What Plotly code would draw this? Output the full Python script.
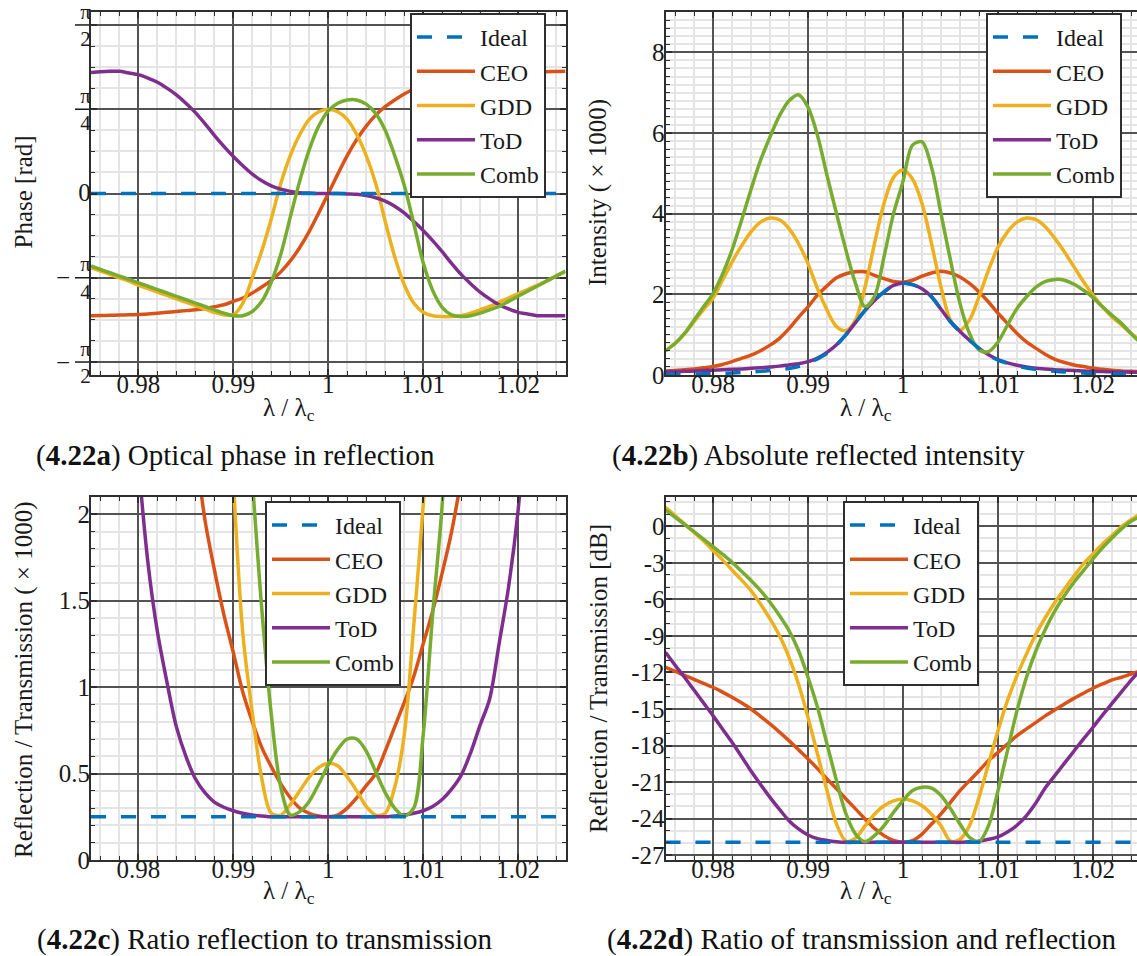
import numpy as np
import plotly.graph_objects as go

FONT = "Liberation Serif"
W, H = 1137, 956

# ---------------- data ----------------
LAMBDA = [0.975, 0.976, 0.977, 0.978, 0.979, 0.980, 0.981, 0.982, 0.983, 0.984,
          0.985, 0.986, 0.987, 0.988, 0.989, 0.990, 0.991, 0.992, 0.993, 0.994,
          0.995, 0.996, 0.997, 0.998, 0.999, 1.000, 1.001, 1.002, 1.003, 1.004,
          1.005, 1.006, 1.007, 1.008, 1.009, 1.010, 1.011, 1.012, 1.013, 1.014,
          1.015, 1.016, 1.017, 1.018, 1.019, 1.020, 1.021, 1.022, 1.023, 1.024,
          1.025]

# (a) optical phase, in units of pi/4
PHASE_IDEAL_QPI = [0.0, 0.0, 0.0, 0.0, 0.0, 0.0, 0.0, 0.0, 0.0, 0.0, 0.0, 0.0, 0.0,
                   0.0, 0.0, 0.0, 0.0, 0.0, 0.0, 0.0, 0.0, 0.0, 0.0, 0.0, 0.0, 0.0,
                   0.0, 0.0, 0.0, 0.0, 0.0, 0.0, 0.0, 0.0, 0.0, 0.0, 0.0, 0.0, 0.0,
                   0.0, 0.0, 0.0, 0.0, 0.0, 0.0, 0.0, 0.0, 0.0, 0.0, 0.0, 0.0]
PHASE_CEO_QPI = [-1.45, -1.448, -1.446, -1.443, -1.44, -1.436, -1.43, -1.42, -1.41, -1.40,
                 -1.39, -1.38, -1.365, -1.345, -1.32, -1.28, -1.24, -1.18, -1.11, -1.03,
                 -0.93, -0.80, -0.64, -0.45, -0.23, 0.0, 0.23, 0.45, 0.64, 0.80,
                 0.93, 1.03, 1.11, 1.18, 1.24, 1.28, 1.32, 1.345, 1.365, 1.38,
                 1.39, 1.40, 1.41, 1.42, 1.43, 1.436, 1.44, 1.443, 1.446, 1.448, 1.45]
PHASE_GDD_QPI = [-0.88, -0.92, -0.96, -1.00, -1.04, -1.09, -1.13, -1.17, -1.21, -1.25,
                 -1.29, -1.33, -1.37, -1.41, -1.44, -1.44, -1.30, -1.00, -0.68, -0.30,
                 0.12, 0.45, 0.70, 0.88, 0.97, 1.00, 0.97, 0.88, 0.70, 0.45,
                 0.12, -0.33, -0.75, -1.08, -1.30, -1.41, -1.45, -1.46, -1.46, -1.45,
                 -1.42, -1.38, -1.34, -1.29, -1.24, -1.19, -1.14, -1.09, -1.04, -0.98, -0.93]
PHASE_TOD_QPI = [1.435, 1.445, 1.45, 1.45, 1.43, 1.41, 1.37, 1.32, 1.25, 1.17,
                 1.07, 0.96, 0.83, 0.69, 0.56, 0.44, 0.33, 0.23, 0.15, 0.09,
                 0.05, 0.025, 0.01, 0.005, 0.0, 0.0, 0.0, -0.005, -0.01, -0.025,
                 -0.05, -0.09, -0.15, -0.23, -0.33, -0.44, -0.56, -0.69, -0.83, -0.96,
                 -1.07, -1.17, -1.25, -1.32, -1.37, -1.41, -1.43, -1.45, -1.45, -1.45, -1.45]
PHASE_COMB_QPI = [-0.86, -0.90, -0.94, -0.98, -1.02, -1.06, -1.10, -1.14, -1.18, -1.22,
                  -1.26, -1.30, -1.34, -1.38, -1.42, -1.45, -1.45, -1.40, -1.28, -1.05,
                  -0.72, -0.28, 0.15, 0.52, 0.80, 0.98, 1.07, 1.11, 1.11, 1.06,
                  0.95, 0.75, 0.45, 0.10, -0.35, -0.82, -1.15, -1.35, -1.44, -1.46,
                  -1.45, -1.42, -1.38, -1.34, -1.28, -1.22, -1.16, -1.10, -1.04, -0.98, -0.92]

# (b) reflected intensity (x1000)
INT_IDEAL = [0.01, 0.015, 0.02, 0.025, 0.03, 0.035, 0.04, 0.05, 0.06, 0.07,
             0.09, 0.11, 0.13, 0.16, 0.21, 0.29, 0.40, 0.54, 0.74, 1.0,
             1.3, 1.6, 1.85, 2.06, 2.22, 2.28, 2.24, 2.14, 1.94, 1.63,
             1.32, 1.08, 0.86, 0.66, 0.49, 0.37, 0.29, 0.22, 0.17, 0.14,
             0.11, 0.09, 0.075, 0.06, 0.05, 0.04, 0.035, 0.03, 0.02, 0.015, 0.01]
INT_CEO = [0.10, 0.11, 0.13, 0.15, 0.18, 0.21, 0.26, 0.33, 0.41, 0.49,
           0.60, 0.74, 0.91, 1.15, 1.43, 1.69, 1.98, 2.21, 2.41, 2.51,
           2.56, 2.56, 2.47, 2.39, 2.32, 2.30, 2.35, 2.45, 2.53, 2.57,
           2.53, 2.43, 2.27, 2.06, 1.81, 1.53, 1.28, 1.03, 0.82, 0.66,
           0.51, 0.39, 0.31, 0.25, 0.21, 0.165, 0.14, 0.12, 0.10, 0.09, 0.08]
INT_GDD = [0.6, 0.78, 1.02, 1.32, 1.62, 1.9, 2.35, 2.8, 3.2, 3.55,
           3.79, 3.89, 3.85, 3.63, 3.26, 2.76, 2.14, 1.61, 1.2, 1.1,
           1.36, 2.18, 3.26, 4.25, 4.9, 5.08, 4.86, 4.25, 3.26, 2.18,
           1.36, 1.11, 1.36, 1.94, 2.6, 3.17, 3.55, 3.79, 3.89, 3.85,
           3.67, 3.38, 3.05, 2.68, 2.31, 1.98, 1.69, 1.44, 1.24, 1.03, 0.85]
INT_TOD = [0.08, 0.085, 0.09, 0.10, 0.11, 0.12, 0.13, 0.14, 0.15, 0.165,
           0.18, 0.20, 0.22, 0.25, 0.28, 0.33, 0.42, 0.56, 0.75, 1.0,
           1.3, 1.6, 1.85, 2.06, 2.22, 2.28, 2.24, 2.14, 1.94, 1.63,
           1.32, 1.08, 0.86, 0.66, 0.50, 0.38, 0.30, 0.24, 0.20, 0.17,
           0.15, 0.13, 0.12, 0.11, 0.10, 0.09, 0.085, 0.08, 0.075, 0.07, 0.065]
INT_COMB = [0.6, 0.78, 1.03, 1.36, 1.69, 2.02, 2.5, 3.1, 3.83, 4.6,
            5.32, 5.9, 6.43, 6.8, 6.95, 6.64, 5.94, 4.95, 4.0, 3.09,
            2.27, 1.69, 1.95, 2.93, 4.0, 4.8, 5.7, 5.78, 5.15, 4.0,
            2.84, 1.77, 1.03, 0.62, 0.58, 0.82, 1.24, 1.65, 1.94, 2.18,
            2.32, 2.37, 2.35, 2.25, 2.1, 1.92, 1.69, 1.48, 1.28, 1.03, 0.8]

# (c) reflection / transmission (x1000); None = above the visible range
RT_IDEAL = [0.25, 0.25, 0.25, 0.25, 0.25, 0.25, 0.25, 0.25, 0.25, 0.25,
            0.25, 0.25, 0.25, 0.25, 0.25, 0.25, 0.25, 0.25, 0.25, 0.25,
            0.25, 0.25, 0.25, 0.25, 0.25, 0.25, 0.25, 0.25, 0.25, 0.25,
            0.25, 0.25, 0.25, 0.25, 0.25, 0.25, 0.25, 0.25, 0.25, 0.25,
            0.25, 0.25, 0.25, 0.25, 0.25, 0.25, 0.25, 0.25, 0.25, 0.25, 0.25]
RT_CEO = [None, None, None, None, None, None, None, None, None, None,
          None, 2.4, 1.97, 1.68, 1.42, 1.2, 0.97, 0.8, 0.65, 0.54,
          0.44, 0.36, 0.30, 0.27, 0.255, 0.25, 0.26, 0.30, 0.36, 0.43,
          0.5, 0.63, 0.77, 0.91, 1.06, 1.25, 1.44, 1.66, 1.9, 2.2,
          None, None, None, None, None, None, None, None, None, None, None]
RT_GDD = [None, None, None, None, None, None, None, None, None, None,
          None, None, None, None, None, 2.2, 1.31, 0.85, 0.47, 0.27,
          0.26, 0.32, 0.40, 0.48, 0.535, 0.56, 0.545, 0.48, 0.40, 0.31,
          0.26, 0.27, 0.42, 0.72, 1.35, 2.05, 2.9, None, None, None,
          None, None, None, None, None, None, None, None, None, None, None]
RT_TOD = [None, None, None, None, None, 2.3, 1.72, 1.32, 1.03, 0.77,
          0.6, 0.47, 0.39, 0.335, 0.305, 0.285, 0.27, 0.26, 0.255, 0.25,
          0.25, 0.25, 0.25, 0.25, 0.25, 0.25, 0.25, 0.25, 0.25, 0.25,
          0.25, 0.25, 0.255, 0.26, 0.27, 0.285, 0.31, 0.35, 0.41, 0.49,
          0.62, 0.78, 0.93, 1.25, 1.58, 2.02, 2.7, None, None, None, None]
RT_COMB = [None, None, None, None, None, None, None, None, None, None,
           None, None, None, None, None, None, None, 2.2, 1.45, 0.84,
           0.42, 0.26, 0.28, 0.34, 0.44, 0.55, 0.64, 0.70, 0.70, 0.63,
           0.51, 0.39, 0.30, 0.255, 0.30, 0.72, 1.42, 2.05, 3.0, None,
           None, None, None, None, None, None, None, None, None, None, None]

# (d) reflection / transmission in dB
DB_IDEAL = [-25.95, -25.95, -25.95, -25.95, -25.95, -25.95, -25.95, -25.95, -25.95, -25.95,
            -25.95, -25.95, -25.95, -25.95, -25.95, -25.95, -25.95, -25.95, -25.95, -25.95,
            -25.95, -25.95, -25.95, -25.95, -25.95, -25.95, -25.95, -25.95, -25.95, -25.95,
            -25.95, -25.95, -25.95, -25.95, -25.95, -25.95, -25.95, -25.95, -25.95, -25.95,
            -25.95, -25.95, -25.95, -25.95, -25.95, -25.95, -25.95, -25.95, -25.95, -25.95, -25.95]
DB_CEO = [-11.58, -11.9, -12.25, -12.57, -12.9, -13.22, -13.62, -14.04, -14.5, -15.0,
          -15.6, -16.23, -16.9, -17.6, -18.35, -19.1, -19.9, -20.75, -21.55, -22.39,
          -23.2, -24.03, -24.8, -25.4, -25.8, -25.95, -25.8, -25.27, -24.45, -23.62,
          -22.67, -21.7, -20.89, -20.07, -19.24, -18.56, -17.88, -17.19, -16.64, -16.1,
          -15.55, -15.06, -14.59, -14.13, -13.71, -13.3, -12.95, -12.62, -12.4, -12.13, -11.9]
DB_GDD = [1.56, 0.88, 0.19, -0.49, -1.2, -2.0, -2.76, -3.59, -4.41, -5.28,
          -6.38, -7.61, -8.98, -10.76, -12.95, -15.69, -18.7, -21.7, -24.45, -25.85,
          -25.6, -24.6, -23.65, -22.95, -22.55, -22.4, -22.55, -22.95, -23.65, -24.6,
          -25.85, -25.7, -24.58, -22.26, -19.52, -16.78, -14.3, -12.26, -10.48, -8.84,
          -7.47, -6.24, -5.15, -4.1, -3.09, -2.27, -1.45, -0.77, -0.03, 0.52, 1.0]
DB_TOD = [-10.35, -11.4, -12.4, -13.45, -14.5, -15.55, -16.65, -17.74, -18.9, -20.1,
          -21.2, -22.26, -23.25, -24.17, -24.85, -25.35, -25.65, -25.8, -25.9, -25.95,
          -25.95, -25.95, -25.95, -25.95, -25.95, -25.95, -25.95, -25.95, -25.95, -25.95,
          -25.95, -25.95, -25.9, -25.85, -25.7, -25.5, -25.1, -24.55, -23.75, -22.7,
          -21.45, -20.45, -19.45, -18.45, -17.45, -16.5, -15.5, -14.55, -13.6, -12.65, -11.8]
DB_COMB = [1.34, 0.75, 0.15, -0.45, -1.05, -1.67, -2.3, -2.96, -3.7, -4.46,
           -5.28, -6.24, -7.34, -8.57, -10.2, -12.4, -14.86, -17.88, -20.89, -23.62,
           -25.27, -25.9, -25.4, -24.58, -23.49, -22.53, -21.7, -21.43, -21.5, -22.1,
           -23.2, -24.45, -25.54, -25.9, -24.58, -21.7, -18.42, -15.14, -12.4, -10.2,
           -8.43, -6.93, -5.69, -4.6, -3.64, -2.68, -1.78, -0.96, -0.22, 0.41, 0.8]

SERIES = ["Ideal", "CEO", "GDD", "ToD", "Comb"]
COLORS = {"Ideal": "#0072BD", "CEO": "#D95319", "GDD": "#EDB120",
          "ToD": "#7E2F8E", "Comb": "#77AC30"}

XTICKS = [0.98, 0.99, 1.0, 1.01, 1.02]
XTICKTEXT = ["0.98", "0.99", "1", "1.01", "1.02"]

PHASE_TICKS = [-np.pi / 2, -np.pi / 4, 0, np.pi / 4, np.pi / 2]
PHASE_TEXT = ["π<br>2", "π<br>4", "<span style='font-size:25px'>0</span>", "π<br>4", "π<br>2"]
PHASE_RANGE = [-1.6916, 1.6916]

Q = np.pi / 4
PANELS = [
    dict(xa="x", ya="y", legend="legend",
         data={"Ideal": np.array(PHASE_IDEAL_QPI) * Q, "CEO": np.array(PHASE_CEO_QPI) * Q,
               "GDD": np.array(PHASE_GDD_QPI) * Q, "ToD": np.array(PHASE_TOD_QPI) * Q,
               "Comb": np.array(PHASE_COMB_QPI) * Q}),
    dict(xa="x2", ya="y2", legend="legend2",
         data={"Ideal": INT_IDEAL, "CEO": INT_CEO, "GDD": INT_GDD, "ToD": INT_TOD, "Comb": INT_COMB}),
    dict(xa="x3", ya="y3", legend="legend3",
         data={"Ideal": RT_IDEAL, "CEO": RT_CEO, "GDD": RT_GDD, "ToD": RT_TOD, "Comb": RT_COMB}),
    dict(xa="x4", ya="y4", legend="legend4",
         data={"Ideal": DB_IDEAL, "CEO": DB_CEO, "GDD": DB_GDD, "ToD": DB_TOD, "Comb": DB_COMB}),
]

fig = go.Figure()
for p in PANELS:
    for name in ["CEO", "GDD", "ToD", "Comb", "Ideal"]:
        fig.add_trace(go.Scatter(
            x=LAMBDA, y=p["data"][name], mode="lines", name=name,
            line=dict(color=COLORS[name], width=3.5, shape="spline", smoothing=0.9,
                      dash="15px,15px" if name == "Ideal" else "solid"),
            xaxis=p["xa"], yaxis=p["ya"], legend=p["legend"],
            legendrank=SERIES.index(name) + 1, hoverinfo="skip"))

# fraction bars of the pi tick labels (drawn on a small helper axis beside panel a)
bar_x, bar_y = [], []
for v in PHASE_TICKS:
    if v != 0:
        bar_x += [0, 1, None]
        bar_y += [v, v, None]
fig.add_trace(go.Scatter(x=bar_x, y=bar_y, mode="lines", xaxis="x5", yaxis="y5",
                         line=dict(color="#1a1a1a", width=1.5), showlegend=False,
                         hoverinfo="skip", cliponaxis=False))

MAJOR = "#535353"
MINOR = "#e4e4e4"
FRAME = "#2e2e2e"
TICKFONT = dict(family=FONT, size=25, color="#1a1a1a")


def px_x(v):
    return v / W


def px_y(v):
    return 1 - v / H


def axis(domain, rng, anchor, tickvals, ticktext, minor_tick0, minor_dtick,
         mirror="ticks", tickfont=TICKFONT, standoff=0):
    return dict(domain=domain, range=rng, anchor=anchor, autorange=False,
                tickmode="array", tickvals=tickvals, ticktext=ticktext,
                showgrid=True, gridcolor=MAJOR, gridwidth=2,
                showline=True, linecolor=FRAME, linewidth=2, mirror=mirror,
                ticks="inside", ticklen=6, tickwidth=1.5, tickcolor=FRAME,
                zeroline=False, tickfont=tickfont, automargin=False,
                ticklabelstandoff=standoff, ticklabeloverflow="allow",
                minor=dict(tickmode="linear", tick0=minor_tick0, dtick=minor_dtick,
                           showgrid=True, gridcolor=MINOR, gridwidth=2,
                           ticks="inside", ticklen=4, tickwidth=1.2, tickcolor=FRAME))


XL = [px_x(91), px_x(565.5)]
XR = [px_x(665.5), 1.0]
YT = [px_y(375), px_y(12)]
YB = [px_y(860), px_y(497)]
X_RANGE_L = [0.975, 1.025]
X_RANGE_R = [0.975, 1.02463]
XSO = -14
YSO = -6

layout = dict(
    width=W, height=956, margin=dict(l=0, r=0, t=0, b=0),
    paper_bgcolor="white", plot_bgcolor="rgba(0,0,0,0)",
    font=dict(family=FONT, color="#1a1a1a"),
    xaxis=axis(XL, X_RANGE_L, "y", XTICKS, XTICKTEXT, 0.98, 0.002, standoff=XSO),
    yaxis=axis(YT, PHASE_RANGE, "x", PHASE_TICKS, PHASE_TEXT, 0, np.pi / 16,
               tickfont=dict(family=FONT, size=21, color="#1a1a1a"), standoff=YSO),
    xaxis2=axis(XR, X_RANGE_R, "y2", XTICKS, XTICKTEXT, 0.98, 0.002, standoff=XSO),
    yaxis2=axis(YT, [0, 9], "x2", [0, 2, 4, 6, 8], ["0", "2", "4", "6", "8"], 0, 0.2,
                mirror=False, standoff=YSO),
    xaxis3=axis(XL, X_RANGE_L, "y3", XTICKS, XTICKTEXT, 0.98, 0.002, standoff=XSO),
    yaxis3=axis(YB, [0, 2.1], "x3", [0, 0.5, 1, 1.5, 2], ["0", "0.5", "1", "1.5", "2"], 0, 0.1,
                standoff=YSO),
    xaxis4=axis(XR, X_RANGE_R, "y4", XTICKS, XTICKTEXT, 0.98, 0.002, standoff=XSO),
    yaxis4=axis(YB, [-27.4, 2.4], "x4", [-27, -24, -21, -18, -15, -12, -9, -6, -3, 0],
                ["-27", "-24", "-21", "-18", "-15", "-12", "-9", "-6", "-3", "0"], 0, 1,
                mirror=False, standoff=YSO),
    xaxis5=dict(domain=[px_x(75), px_x(89)], range=[0, 1], anchor="y5", visible=False,
                showgrid=False, zeroline=False, fixedrange=True),
    yaxis5=dict(domain=YT, range=PHASE_RANGE, anchor="x5", visible=False,
                showgrid=False, zeroline=False, fixedrange=True),
)

LEG = dict(xanchor="left", yanchor="top", bgcolor="white", bordercolor=FRAME, borderwidth=2,
           font=dict(family=FONT, size=24, color="#1a1a1a"), itemwidth=58,
           tracegroupgap=0, traceorder="normal")
layout["legend"] = dict(LEG, x=px_x(410), y=px_y(13))
layout["legend2"] = dict(LEG, x=px_x(986), y=px_y(13))
layout["legend3"] = dict(LEG, x=px_x(265), y=px_y(501))
layout["legend4"] = dict(LEG, x=px_x(843), y=px_y(501))

ann = []
TFONT = dict(family=FONT, size=25, color="#1a1a1a")
for cx, cy in [(289, 409), (866, 409), (289, 892), (866, 892)]:
    ann.append(dict(text="λ / λ<sub>c</sub>", x=px_x(cx), y=px_y(cy), xref="paper", yref="paper",
                    showarrow=False, xanchor="center", yanchor="middle", font=TFONT))
for txt, cx, cy in [("Phase [rad]", 23.5, 192), ("Intensity ( × 1000)", 598, 193),
                    ("Reflection / Transmission ( × 1000)", 24, 680),
                    ("Reflection / Transmission [dB]", 598, 679)]:
    ann.append(dict(text=txt, x=px_x(cx), y=px_y(cy), xref="paper", yref="paper",
                    showarrow=False, textangle=-90, xanchor="center", yanchor="middle", font=TFONT))

# minus signs of the negative pi-fraction tick labels
for v in PHASE_TICKS:
    if v < 0:
        ann.append(dict(text="−", x=px_x(63), y=v, xref="paper", yref="y5",
                        showarrow=False, xanchor="center", yanchor="middle", font=TFONT))
CFONT = dict(family=FONT, size=29, color="#111111")
for txt, lx, cy in [("(<b>4.22a</b>) Optical phase in reflection", 34, 455),
                    ("(<b>4.22b</b>) Absolute reflected intensity", 610, 455),
                    ("(<b>4.22c</b>) Ratio reflection to transmission", 35, 939),
                    ("(<b>4.22d</b>) Ratio of transmission and reflection", 605, 939)]:
    ann.append(dict(text=txt, x=px_x(lx), y=px_y(cy), xref="paper", yref="paper",
                    showarrow=False, xanchor="left", yanchor="middle", font=CFONT))
layout["annotations"] = ann

fig.update_layout(**layout)
fig.write_html("out.html")
